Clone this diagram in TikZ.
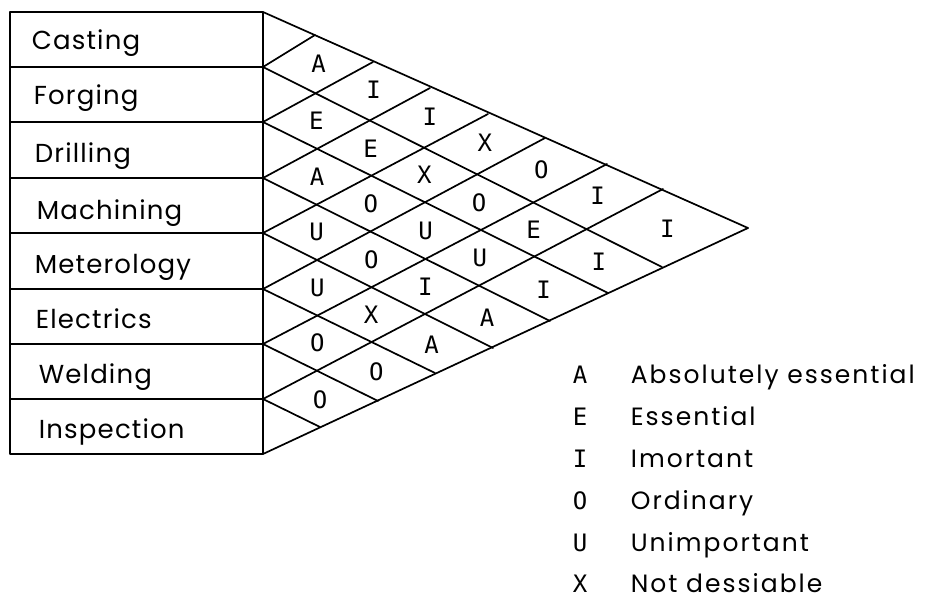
\documentclass[tikz,border=0pt]{standalone}
\usepackage{fontspec}
\setmainfont{Poppins}
\newfontfamily\rowfont[LetterSpace=4.5]{Poppins}
\newfontfamily\keyfont[LetterSpace=8]{Poppins}
\newfontfamily\codefont{DejaVu Sans Mono}
\usetikzlibrary{calc}
\begin{document}
\begin{tikzpicture}[x=1pt,y=-1pt,line width=1.7pt,line join=round,line cap=round,
  rowlabel/.style={anchor=base west,inner sep=0pt,font=\rowfont\fontsize{26}{26}\selectfont},
  legtext/.style={anchor=base west,inner sep=0pt,font=\keyfont\fontsize{25}{25}\selectfont},
  code/.style={inner sep=0pt,font=\codefont\fontsize{24}{24}\selectfont},
  legcode/.style={anchor=base,inner sep=0pt,font=\codefont\fontsize{24}{24}\selectfont}]
\useasboundingbox (0,0) rectangle (925,601);

% row boundaries on the left edge of the triangle and of the name column
\foreach \k/\y in {0/12,1/67,2/122,3/178,4/233,5/289,6/344,7/399,8/454}{
  \coordinate (L\k) at (263,\y);
  \coordinate (E\k) at (10,\y);
}
% vertices along the upper edge of the triangle
\foreach \k/\x/\y in {1/315/35,2/373/62,3/430/88,4/488/114,5/545/138,6/607/164,7/663/189,8/748/228}
  \coordinate (T\k) at (\x,\y);
% vertices along the lower edge of the triangle
\foreach \k/\x/\y in {1/320/427,2/378/401,3/435/373,4/493/348,5/550/321,6/608/293,7/662/267,8/748/228}
  \coordinate (B\k) at (\x,\y);

% name column
\draw (E0) rectangle (L8);
\foreach \k in {1,...,7} \draw (E\k) -- (L\k);

\node[rowlabel] (n1) at (31,50)  {Casting};
\node[rowlabel] (n2) at (33,105) {Forging};
\node[rowlabel] (n3) at (34,163) {Drilling};
\node[rowlabel] (n4) at (36,220) {Machining};
\node[rowlabel] (n5) at (34,273) {Meterology};
\node[rowlabel] (n6) at (35,328) {Electrics};
\node[rowlabel] (n7) at (38,383) {Welding};
\node[rowlabel] (n8) at (38,438) {Inspection};

% diagonal grid
\foreach \k in {0,...,7}{
  \pgfmathtruncatemacro\m{8-\k}
  \draw (L\k) -- (B\m);
}
\foreach \k in {1,...,8} \draw (L\k) -- (T\k);

% relationship codes in the diamonds
\foreach \i/\j/\c in {1/2/A,2/3/E,3/4/A,4/5/U,5/6/U,6/7/O,7/8/O,
                      1/3/I,2/4/E,3/5/O,4/6/O,5/7/X,6/8/O,
                      1/4/I,2/5/X,3/6/U,4/7/I,5/8/A,
                      1/5/X,2/6/O,3/7/U,4/8/A,
                      1/6/O,2/7/E,3/8/I,
                      1/7/I,2/8/I,
                      1/8/I}{
  \pgfmathtruncatemacro\ia{\i-1}
  \pgfmathtruncatemacro\ja{\j-1}
  \pgfmathtruncatemacro\ba{9-\i}
  \pgfmathtruncatemacro\bb{8-\i}
  \edef\cellcorners{%
    \noexpand\coordinate (R\i\j) at (intersection of L\ia--B\ba\space and L\j--T\j);
    \noexpand\coordinate (F\i\j) at (intersection of L\i--B\bb\space and L\ja--T\ja);}
  \cellcorners
  \node[code] (c\i\j) at ($(R\i\j)!0.5!(F\i\j)$) {\c};
}

% key
\foreach \c/\t/\y [count=\n] in {A/Absolutely essential/383,E/Essential/425,I/Imortant/467,
                                 O/Ordinary/509,U/Unimportant/551,X/Not dessiable/592}{
  \node[legcode] (k\n) at (580,\y) {\c};
  \node[legtext] (t\n) at (630,\y) {\t};
}
\end{tikzpicture}
\end{document}
